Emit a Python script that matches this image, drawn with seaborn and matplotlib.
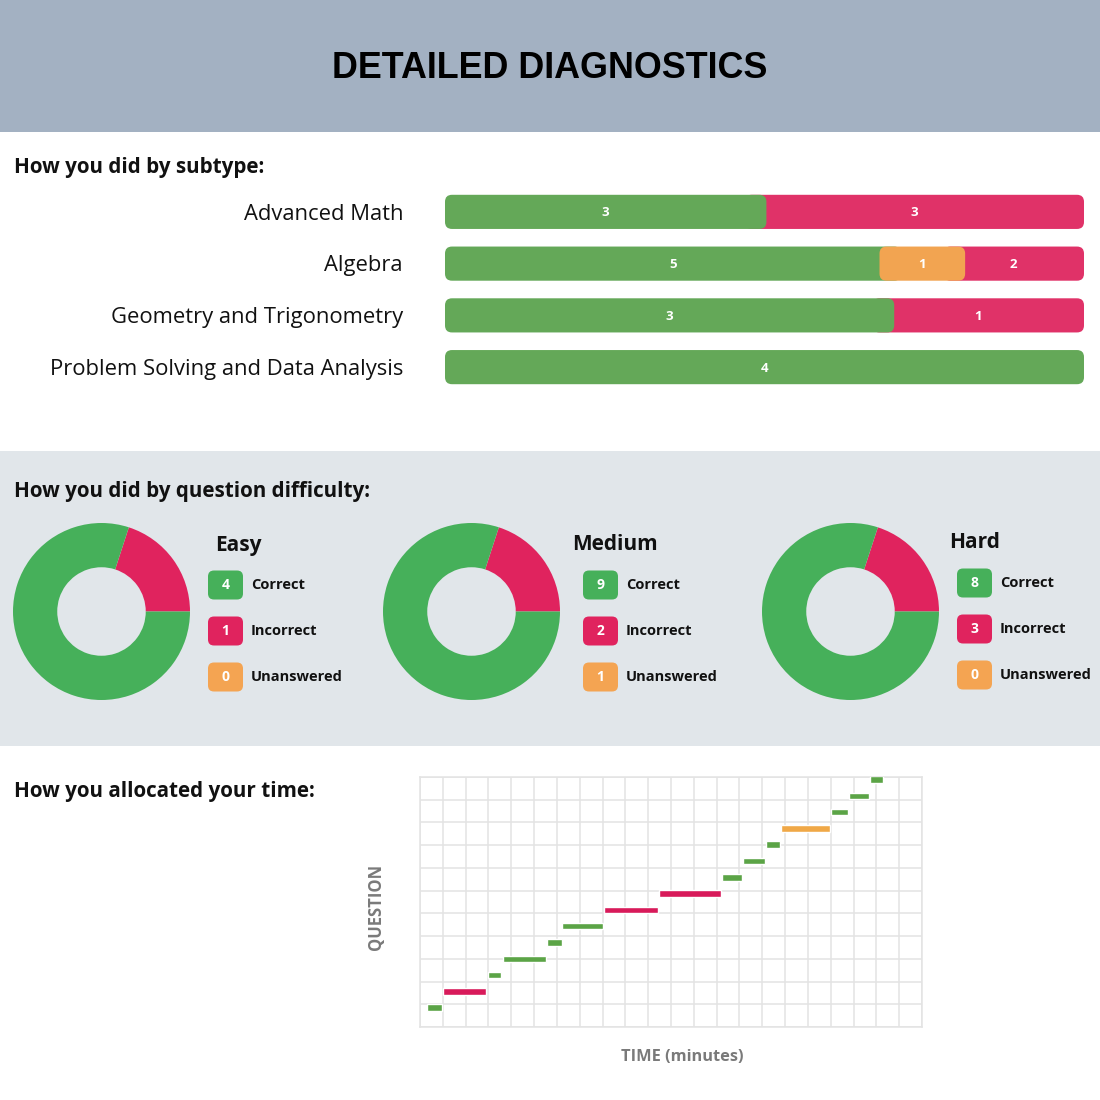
import numpy as np
import pandas as pd
import matplotlib
matplotlib.use("Agg")
import matplotlib.pyplot as plt
from matplotlib.patches import FancyBboxPatch, Rectangle
import seaborn as sns

# ---------------- data ----------------
subtypes = ["Advanced Math", "Algebra", "Geometry and Trigonometry",
            "Problem Solving and Data Analysis"]
sub_correct_n = [3, 5, 3, 4]
sub_unanswered_n = [0, 1, 0, 0]
sub_incorrect_n = [3, 2, 1, 0]
# visible share of each bar (percent)
sub_correct_share = [50.3, 68.0, 70.3, 100.0]
sub_unanswered_share = [0.0, 13.4, 0.0, 0.0]
sub_incorrect_share = [49.7, 18.6, 29.7, 0.0]

difficulties = ["Easy", "Medium", "Hard"]
diff_correct = [4, 9, 8]
diff_incorrect = [1, 2, 3]
diff_unanswered = [0, 1, 0]
# ring shares as drawn in the picture (percent)
ring_incorrect = [20, 20, 20]
ring_unanswered = [0, 0, 0]
ring_correct = [80, 80, 80]

questions = list(range(1, 16))
q_start = [0.32, 1.00, 2.96, 3.62, 5.58, 6.24, 8.08, 10.48, 13.24, 14.17,
           15.17, 15.80, 18.02, 18.81, 19.72]
q_end = [0.97, 2.91, 3.57, 5.53, 6.21, 8.02, 10.45, 13.18, 14.13, 15.11,
         15.77, 17.99, 18.75, 19.66, 20.28]
q_status = ["Correct", "Incorrect", "Correct", "Correct", "Correct", "Correct",
            "Incorrect", "Incorrect", "Correct", "Correct", "Correct",
            "Unanswered", "Correct", "Correct", "Correct"]

# ---------------- style ----------------
sns.set_theme(style="white")
plt.rcParams["font.family"] = ["Open Sans", "DejaVu Sans"]

BAR_COL = {"Correct": "#64a858", "Incorrect": "#e03268", "Unanswered": "#f2a451"}
RING_COL = {"Correct": "#46b05a", "Incorrect": "#e0235e", "Unanswered": "#f4a452"}
TIME_COL = {"Correct": "#5ba446", "Incorrect": "#d81a5a", "Unanswered": "#f0a847"}

W = H = 1100
fig = plt.figure(figsize=(11, 11), dpi=100)
fig.patch.set_facecolor("white")


def px_axes(x0, y0, x1, y1, z=1):
    return fig.add_axes([x0 / W, 1 - y1 / H, (x1 - x0) / W, (y1 - y0) / H], zorder=z)


# overlay axes in pixel coords for backgrounds / text
bg = px_axes(0, 0, W, H, z=0)
bg.set_xlim(0, W)
bg.set_ylim(H, 0)
bg.axis("off")
bg.add_patch(Rectangle((0, 0), W, 132, color="#a3b1c2", lw=0))
bg.add_patch(Rectangle((0, 451), W, 295, color="#e1e6ea", lw=0))

bg.text(550, 68, "DETAILED DIAGNOSTICS", ha="center", va="center",
        fontsize=25.8, fontweight="bold", family=["Liberation Sans", "DejaVu Sans"],
        color="#000000")

for y, t in [(167, "How you did by subtype:"),
             (491, "How you did by question difficulty:"),
             (791, "How you allocated your time:")]:
    bg.text(14, y, t, ha="left", va="center", fontsize=14.9, fontweight="bold",
            color="#111111")

# ---------------- subtype bars ----------------
ax = px_axes(445, 186, 1084, 393, z=2)
rows = []
for i, s in enumerate(subtypes):
    c, u, r = sub_correct_share[i], sub_unanswered_share[i], sub_incorrect_share[i]
    rows.append(dict(subtype=s, outcome="Incorrect", right=(c + u + r) if r > 0 else 0))
    rows.append(dict(subtype=s, outcome="Unanswered", right=(c + u) if u > 0 else 0))
    rows.append(dict(subtype=s, outcome="Correct", right=c))
df = pd.DataFrame(rows)
order = ["Incorrect", "Unanswered", "Correct"]
sns.barplot(data=df, y="subtype", x="right", hue="outcome", hue_order=order,
            palette=BAR_COL, dodge=False, orient="h", ax=ax, legend=False,
            width=0.66, order=subtypes)
ax.set_xlim(0, 100)
ax.set_ylim(3.5, -0.5)
ax.axis("off")

ov = 3.4  # hidden overlap under the segment above
rad_px = 7
x_per_px = 100 / 639
y_per_px = 4 / 207
zorders = {"Incorrect": 2, "Unanswered": 4, "Correct": 3}
counts = {"Correct": sub_correct_n, "Unanswered": sub_unanswered_n,
          "Incorrect": sub_incorrect_n}
for cont, outcome in zip(ax.containers, order):
    for i, p in enumerate(list(cont.patches)):
        w = p.get_width()
        yb, hb = p.get_y(), p.get_height()
        p.remove()
        if w <= 0:
            continue
        c, u = sub_correct_share[i], sub_unanswered_share[i]
        if outcome == "Incorrect":
            left = max(c + u - ov, 0)
            right = w
        elif outcome == "Unanswered":
            left, right = c, w
        else:
            left = 0
            right = c + (ov if u > 0 else 0)
        fp = FancyBboxPatch((left, yb), right - left, hb,
                            boxstyle=f"round,pad=0,rounding_size={rad_px * x_per_px}",
                            mutation_aspect=y_per_px / x_per_px,
                            facecolor=BAR_COL[outcome], edgecolor="none",
                            zorder=zorders[outcome])
        ax.add_patch(fp)
        ax.text((left + right) / 2, yb + hb / 2 + 0.02, str(counts[outcome][i]),
                ha="center", va="center", color="white", fontsize=9.5,
                fontweight="bold", zorder=6)

for i, s in enumerate(subtypes):
    bg.text(403, [214, 265, 317, 369][i], s, ha="right", va="center",
            fontsize=15.8, color="#111111")

# ---------------- donuts ----------------
ring_boxes = [(13, 190), (383, 560), (762, 939)]
legend_x = [(215, 208, 251), (572, 583, 626), (949, 957, 1000)]
legend_y = [(545, [585, 631, 677]), (545, [585, 631, 677]), (543, [583, 629, 675])]
for k, d in enumerate(difficulties):
    x0, x1 = ring_boxes[k]
    a = px_axes(x0, 523, x1, 700, z=2)
    a.pie([ring_incorrect[k], ring_unanswered[k], ring_correct[k]],
          colors=[RING_COL["Incorrect"], RING_COL["Unanswered"], RING_COL["Correct"]],
          startangle=0, counterclock=True, radius=1,
          wedgeprops=dict(width=0.5, edgecolor="none", linewidth=0))
    a.set_xlim(-1, 1)
    a.set_ylim(-1, 1)
    a.set_aspect("equal")
    a.axis("off")

    tx, bx, lx = legend_x[k]
    ty, ys = legend_y[k]
    bg.text(tx, ty, d, ha="left", va="center", fontsize=15, fontweight="bold",
            color="#111111")
    vals = [diff_correct[k], diff_incorrect[k], diff_unanswered[k]]
    labs = ["Correct", "Incorrect", "Unanswered"]
    for v, lab, yy in zip(vals, labs, ys):
        bg.add_patch(FancyBboxPatch((bx, yy - 14.5), 35, 29,
                                    boxstyle="round,pad=0,rounding_size=6",
                                    facecolor=RING_COL[lab], edgecolor="none"))
        bg.text(bx + 17.5, yy, str(v), ha="center", va="center", color="white",
                fontsize=10, fontweight="bold")
        bg.text(lx, yy, lab, ha="left", va="center", color="#111111",
                fontsize=10.5, fontweight="bold")

# ---------------- time allocation ----------------
at = px_axes(420, 777, 922, 1027, z=2)
at.set_facecolor("white")
xmin, xmax = 0, 22
ymin, ymax = -0.19, 15.16
at.set_xlim(xmin, xmax)
at.set_ylim(ymin, ymax)
at.set_xticks(np.arange(xmin, xmax + 1, 1))
at.set_yticks(np.linspace(ymin, ymax, 12))
at.grid(True, color="#e3e3e3", linewidth=1.1)
at.tick_params(left=False, bottom=False, labelleft=False, labelbottom=False)
for sp in at.spines.values():
    sp.set_color("#e3e3e3")
    sp.set_linewidth(1.1)
tdf = pd.DataFrame(dict(q=questions, start=q_start, end=q_end, status=q_status))
at.barh(tdf["q"], tdf["end"] - tdf["start"], left=tdf["start"], height=0.4,
        color=[TIME_COL[s] for s in tdf["status"]], zorder=3)
at.set_axisbelow(True)

bg.text(376, 907, "QUESTION", rotation=90, ha="center", va="center",
        fontsize=12, fontweight="bold", color="#7a7a7a")
bg.text(682, 1057, "TIME (minutes)", ha="center", va="center",
        fontsize=11.8, fontweight="bold", color="#7a7a7a")

fig.savefig("out.png", dpi=100, facecolor=fig.get_facecolor())
